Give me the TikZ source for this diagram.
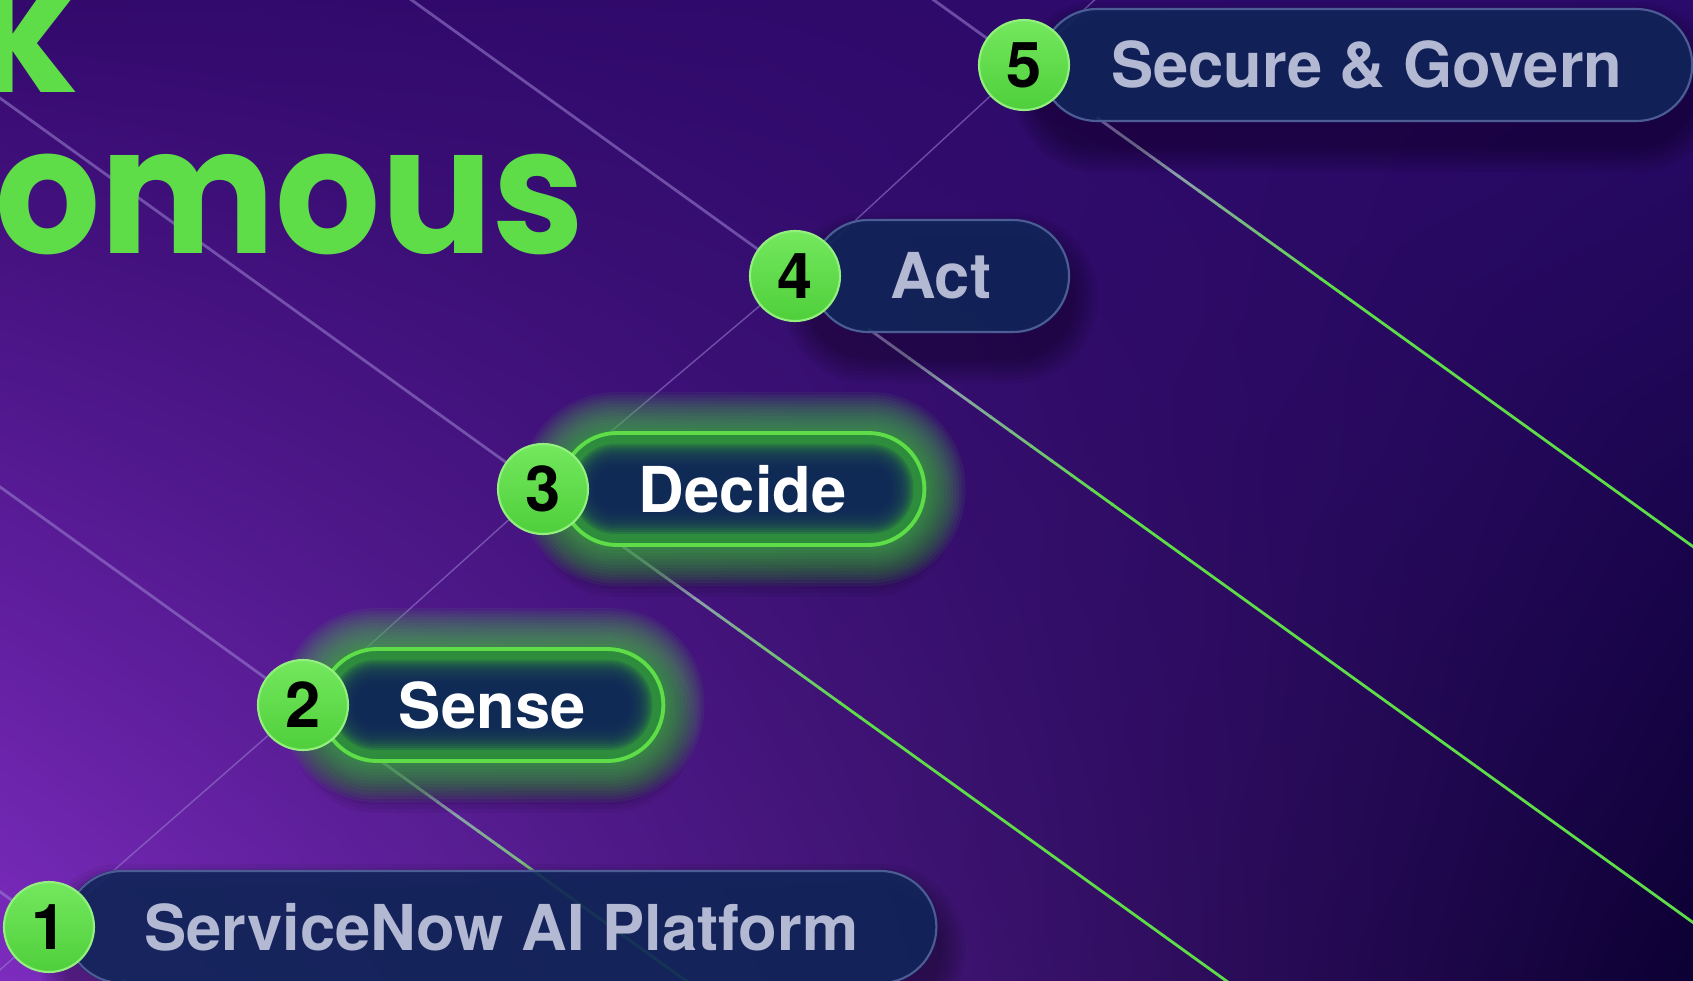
\documentclass[tikz,border=0pt]{standalone}
\usepackage{fontspec}
\setmainfont{TeX Gyre Heros}
\newfontfamily\titlefont[FakeStretch=0.94]{Poppins}
\usetikzlibrary{positioning,calc,shadings}
\pgfdeclarelayer{back}
\pgfdeclarelayer{glow}
\pgfdeclarelayer{front}
\pgfsetlayers{back,glow,main,front}
\definecolor{bgLL}{HTML}{7C2CBE}
\definecolor{bgUL}{HTML}{33096C}
\definecolor{bgUR}{HTML}{2A0A6A}
\definecolor{bgLR}{HTML}{0C0033}
\definecolor{snGreen}{HTML}{5EDD48}
\definecolor{badgeTop}{HTML}{74E85E}
\definecolor{badgeBot}{HTML}{4FCF3B}
\definecolor{badgeRim}{HTML}{93F07F}
\definecolor{pillNavy}{HTML}{10265A}
\definecolor{pillEdge}{HTML}{4E5C96}
\definecolor{pillText}{HTML}{B4B9D3}
\definecolor{ringGreen}{HTML}{2E8C3D}
\definecolor{glowGreen}{HTML}{45C146}
\definecolor{lineLav}{HTML}{9C84D2}

\begin{document}
\begin{tikzpicture}[
    font=\bfseries\fontsize{18}{20}\selectfont,
    badge/.style={circle, minimum size=0.9cm, inner sep=0pt, top color=badgeTop,
      bottom color=badgeBot, draw=badgeRim, line width=0.6pt, text=black},
    pill/.style={rectangle, rounded corners=0.56cm, minimum height=1.12cm,
      inner xsep=0.78cm, inner ysep=0pt, draw=pillEdge, line width=0.6pt, text=pillText},
    live/.style={draw=snGreen, line width=1.1pt, text=white},
    ray/.style={lineLav, line width=0.8pt, opacity=0.55},
    link/.style={lineLav, line width=0.4pt, opacity=0.55},
    title/.style={anchor=base west, text=snGreen, inner sep=0pt,
      font=\titlefont\bfseries\fontsize{50}{50}\selectfont}
  ]
  \useasboundingbox (0,0) rectangle (16.93,9.80);

  % step badges
  \begin{pgfonlayer}{front}
    \node[badge] (n1) at (0.49,0.53) {1};
    \node[badge] (n2) at (3.03,2.75) {2};
    \node[badge] (n3) at (5.43,4.91) {3};
    \node[badge] (n4) at (7.95,7.04) {4};
    \node[badge] (n5) at (10.24,9.15) {5};
  \end{pgfonlayer}

  % labels
  \node[pill, right=-0.30cm of n1] (p1) {ServiceNow AI Platform};
  \node[pill, live, right=-0.30cm of n2] (p2) {Sense};
  \node[pill, live, right=-0.30cm of n3] (p3) {Decide};
  \node[pill, right=-0.30cm of n4] (p4) {Act};
  \node[pill, inner xsep=0.70cm, right=-0.30cm of n5] (p5) {Secure \& Govern};

  % heading, cut by the left edge
  \node[title] (ttl1) at (-0.26,8.88) {k};
  \node[title] (ttl2) at (-0.05,7.27) {omous};

  \begin{pgfonlayer}{back}
    \clip (0,0) rectangle (16.93,9.80);
    \shade[lower left=bgLL, upper left=bgUL, upper right=bgUR, lower right=bgLR]
      (0,0) rectangle (16.93,9.80);
    % rising link through the badges
    \coordinate (lowEnd) at ($(n1)!-0.4!(n2)$);
    \coordinate (highEnd) at ($(n5)!-0.4!(n4)$);
    \draw[link] (lowEnd) -- (n1.center) -- (n2.center) -- (n3.center)
      -- (n4.center) -- (n5.center) -- (highEnd);
    % falling rays, turning green past each label
    \foreach \i in {1,...,5} {
      \draw[ray] (n\i.center) -- ++(144.25:14);
      \foreach \k in {0,...,11} {
        \pgfmathtruncatemacro\mix{\k*100/11}
        \draw[line width=0.8pt, snGreen!\mix!lineLav]
          (n\i.center) ++(-35.75:{0.9+0.25*\k}) -- ++(-35.75:0.27);
      }
      \draw[line width=0.8pt, snGreen] (n\i.center) ++(-35.75:3.9) -- ++(-35.75:20);
    }
  \end{pgfonlayer}

  \begin{pgfonlayer}{glow}
    % soft shadow under every label
    \foreach \p in {p1,p2,p3,p4,p5}
      \foreach \d in {0.04,0.08,...,0.32} {
        \pgfmathsetmacro\r{0.56+\d}
        \fill[black, opacity=0.05, rounded corners=\r cm]
          ([shift={(-\d,-\d-0.22)}]\p.south west) rectangle ([shift={(\d,\d-0.22)}]\p.north east);
      }
    % green halo of the live steps
    \foreach \p in {p2,p3}
      \foreach \d in {0.03,0.06,...,0.39} {
        \pgfmathsetmacro\r{0.56+\d}
        \fill[glowGreen, opacity=0.08, rounded corners=\r cm]
          ([shift={(-\d,-\d)}]\p.south west) rectangle ([shift={(\d,\d)}]\p.north east);
      }
    \foreach \p in {p1,p4,p5}
      \fill[pillNavy, opacity=0.88, rounded corners=0.56cm] (\p.south west) rectangle (\p.north east);
    \foreach \p in {p2,p3} {
      \fill[ringGreen, rounded corners=0.56cm] (\p.south west) rectangle (\p.north east);
      \foreach \d in {0.13,0.15,...,0.37} {
        \pgfmathsetmacro\r{0.56-\d}
        \fill[pillNavy, opacity=0.2, rounded corners=\r cm]
          ([shift={(\d,\d)}]\p.south west) rectangle ([shift={(-\d,-\d)}]\p.north east);
      }
    }
  \end{pgfonlayer}
\end{tikzpicture}
\end{document}
